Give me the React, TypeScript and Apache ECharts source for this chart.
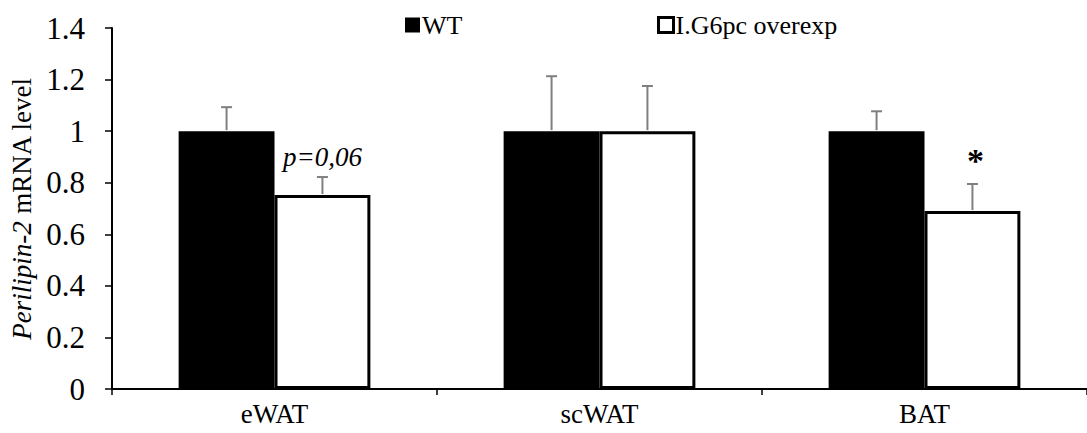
import React, { useEffect, useRef } from "react";
import * as echarts from "echarts";

const categories = ["eWAT", "scWAT", "BAT"];
const wtMean = [1.0, 1.0, 1.0];
const wtErr = [0.093, 0.213, 0.077];
const ovMean = [0.752, 1.0, 0.69];
const ovErr = [0.07, 0.175, 0.105];
const seriesNames = ["WT", "I.G6pc overexp"];
const annotations: [number, number, number, string][] = [
  // [category index, value position, series side (-1 WT, 1 overexp), text]
  [0, 0.9, 1, "p=0,06"],
  [2, 0.885, 1, "*"],
];

const FONT = "Liberation Serif";
const BAR_RATIO = 0.295;

function errorRender(sign: number) {
  return (params: any, api: any) => {
    const x = api.value(0);
    const v = api.value(1);
    const e = api.value(2);
    const band = api.size([1, 0])[0];
    const off = (band * BAR_RATIO) / 2 * sign;
    const base = api.coord([x, v]);
    const top = api.coord([x, v + e]);
    const cx = base[0] + off;
    const style = { stroke: "#7f7f7f", lineWidth: 2 };
    return {
      type: "group",
      children: [
        { type: "line", shape: { x1: cx, y1: base[1] - 1, x2: cx, y2: top[1] }, style },
        { type: "line", shape: { x1: cx - 5.5, y1: top[1], x2: cx + 5.5, y2: top[1] }, style },
      ],
    };
  };
}

export default function App() {
  const ref = useRef<HTMLDivElement>(null);
  useEffect(() => {
    if (!ref.current) return;
    const chart = echarts.init(ref.current, null, { renderer: "svg" });
    chart.setOption({
      animation: false,
      backgroundColor: "#fff",
      textStyle: { fontFamily: FONT },
      grid: { left: 112, right: -4, top: 28, bottom: 44, containLabel: false },
      legend: [
        {
          data: [{ name: seriesNames[0], itemStyle: { color: "#000", borderWidth: 0 } }],
          left: 405,
          top: 12,
          padding: 0,
          itemWidth: 15,
          itemHeight: 15,
          icon: "rect",
          textStyle: { fontFamily: FONT, fontSize: 26, color: "#000", padding: [0, 0, 0, -3] },
        },
        {
          data: [{ name: seriesNames[1], itemStyle: { color: "#fff", borderColor: "#000", borderWidth: 3 } }],
          left: 657,
          top: 12,
          padding: 0,
          itemWidth: 15,
          itemHeight: 15,
          icon: "rect",
          textStyle: { fontFamily: FONT, fontSize: 26, color: "#000", padding: [0, 0, 0, -3] },
        },
      ],
      xAxis: {
        type: "category",
        data: categories,
        axisLine: { show: true, lineStyle: { color: "#000", width: 2 } },
        axisTick: { show: true, length: 6, lineStyle: { color: "#000", width: 1.5 } },
        axisLabel: { color: "#000", fontSize: 27, fontFamily: FONT, margin: 11 },
      },
      yAxis: {
        type: "value",
        min: 0,
        max: 1.4,
        interval: 0.2,
        name: "{i|Perilipin-2} mRNA level",
        nameLocation: "middle",
        nameRotate: 90,
        nameGap: 76,
        nameTextStyle: {
          fontFamily: FONT,
          fontSize: 27,
          color: "#000",
          rich: { i: { fontFamily: FONT, fontSize: 27, fontStyle: "italic", color: "#000" } },
        },
        axisLine: { show: true, lineStyle: { color: "#000", width: 2 } },
        axisTick: { show: true, length: 7, lineStyle: { color: "#000", width: 1.5 } },
        axisLabel: { color: "#000", fontSize: 31, fontFamily: FONT, margin: 27 },
        splitLine: { show: false },
      },
      series: [
        {
          name: seriesNames[0],
          type: "bar",
          data: wtMean,
          barWidth: BAR_RATIO * 100 + "%",
          barGap: "0%",
          itemStyle: { color: "#000" },
          z: 2,
        },
        {
          name: seriesNames[1],
          type: "bar",
          data: ovMean,
          barWidth: BAR_RATIO * 100 + "%",
          barGap: "0%",
          itemStyle: { color: "#fff", borderColor: "#000", borderWidth: 3 },
          z: 2,
        },
        {
          type: "custom",
          name: "wtErr",
          renderItem: errorRender(-1),
          data: wtMean.map((v, i) => [i, v, wtErr[i]]),
          z: 5,
          silent: true,
        },
        {
          type: "custom",
          name: "ovErr",
          renderItem: errorRender(1),
          data: ovMean.map((v, i) => [i, v, ovErr[i]]),
          z: 5,
          silent: true,
        },
        {
          type: "custom",
          name: "annot",
          z: 6,
          silent: true,
          data: annotations,
          renderItem: (params: any, api: any) => {
            const a = annotations[params.dataIndex];
            const band = api.size([1, 0])[0];
            const pt = api.coord([a[0], a[1]]);
            const cx = pt[0] + (band * BAR_RATIO) / 2 * a[2];
            const isStar = a[3] === "*";
            return {
              type: "text",
              x: isStar ? cx + 3 : cx,
              y: pt[1],
              style: {
                text: a[3],
                fontFamily: FONT,
                fontSize: isStar ? 34 : 27,
                fontStyle: isStar ? "normal" : "italic",
                fontWeight: isStar ? "bold" : "normal",
                fill: "#000",
                align: "center",
                verticalAlign: "middle",
              },
            };
          },
        },
      ],
    });
    return () => chart.dispose();
  }, []);
  return (
    <div
      ref={ref}
      style={{ position: "fixed", left: 0, top: 0, width: 1087, height: 433, background: "#fff" }}
    />
  );
}
